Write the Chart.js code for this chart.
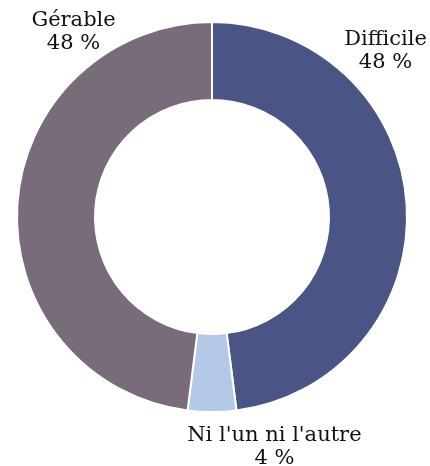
<!DOCTYPE html>
<html lang="fr">
<head>
  <meta charset="UTF-8">
  <title>Difficile / Gérable</title>
  <script src="https://cdn.jsdelivr.net/npm/chart.js"></script>
  <style>
    html, body { margin: 0; padding: 0; background: #fff; }
    #wrap { width: 430px; height: 466px; }
  </style>
</head>
<body>
  <div id="wrap"><canvas id="donut" width="430" height="466"></canvas></div>

  <script>
    const categories = ['Difficile', "Ni l'un ni l'autre", 'Gérable'];
    const values = [48, 4, 48];
    const valueLabels = ['48 %', '4 %', '48 %'];
    const colors = ['#4a5586', '#b4c8e8', '#786b7a'];

    // position des étiquettes, en fraction du rayon par rapport au centre
    const labelOffsets = [[0.89, -0.91], [0.32, 1.12], [-0.71, -1.01]];

    const labelPlugin = {
      id: 'outsideLabels',
      afterDatasetsDraw(chart) {
        const c = chart.ctx;
        const arcs = chart.getDatasetMeta(0).data;
        c.save();
        c.font = '21px "DejaVu Serif", serif';
        c.fillStyle = '#111';
        c.textAlign = 'center';
        c.textBaseline = 'middle';
        arcs.forEach((arc, i) => {
          const r = arc.outerRadius;
          const x = arc.x + labelOffsets[i][0] * r;
          const y = arc.y + labelOffsets[i][1] * r;
          c.fillText(categories[i], x, y);
          c.fillText(valueLabels[i], x, y + 23);
        });
        c.restore();
      }
    };

    new Chart(document.getElementById('donut'), {
      type: 'doughnut',
      data: {
        labels: categories,
        datasets: [{
          data: values,
          backgroundColor: colors,
          borderColor: '#fff',
          borderWidth: 2
        }]
      },
      options: {
        responsive: false,
        animation: false,
        cutout: '60%',
        layout: { padding: { top: 21, bottom: 53, left: 16, right: 22 } },
        plugins: {
          legend: { display: false },
          tooltip: { enabled: false }
        }
      },
      plugins: [labelPlugin]
    });
  </script>
</body>
</html>
